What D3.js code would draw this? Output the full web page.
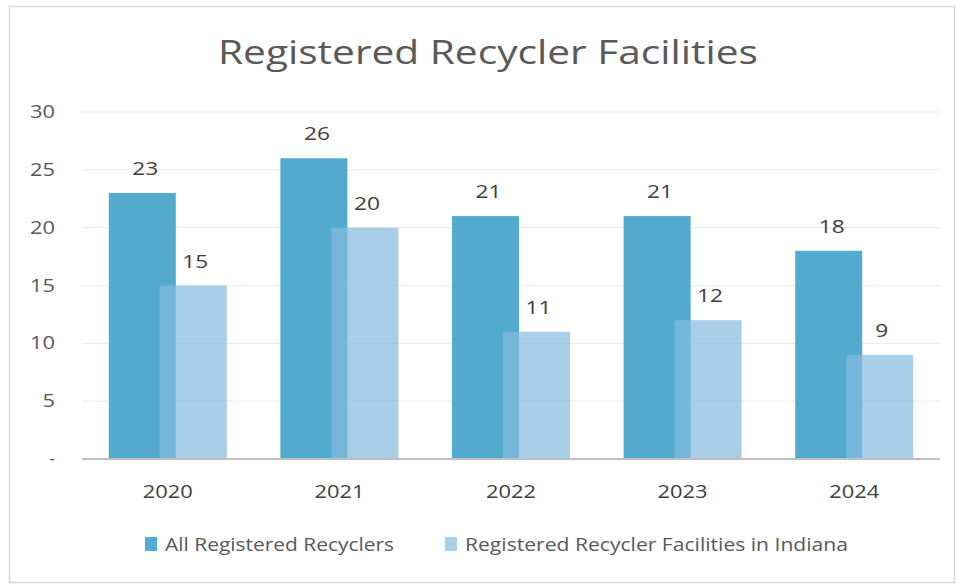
<!DOCTYPE html>
<html><head><meta charset="utf-8">
<script src="https://cdn.jsdelivr.net/npm/d3@7"></script>
<style>
html,body{margin:0;padding:0;background:#fff;}
svg{display:block;}
text{font-family:"Open Sans","Liberation Sans",sans-serif;}
</style></head>
<body>
<svg id="chart" width="957" height="587"></svg>
<script>
const categories = ["2020","2021","2022","2023","2024"];
const seriesNames = ["All Registered Recyclers","Registered Recycler Facilities in Indiana"];
const allRecyclers = [23,26,21,21,18];
const indianaFacilities = [15,20,11,12,9];
const yTicks = [0,5,10,15,20,25,30];
const title = "Registered Recycler Facilities";

const colors = ["#52abcf","rgba(132,186,222,0.7)"];
const svg = d3.select("#chart");

// frame
svg.append("rect").attr("x",9.5).attr("y",6.5).attr("width",945).attr("height",576)
  .attr("fill","#fff").attr("stroke","#d9d9d9").attr("stroke-width",1.5);

svg.append("text").attr("x",488).attr("y",64).attr("text-anchor","middle")
  .attr("font-size",33).attr("fill","#595959").attr("textLength",540).attr("lengthAdjust","spacingAndGlyphs").text(title);

const x = d3.scaleBand().domain(categories).range([82,940]);
const y = d3.scaleLinear().domain([0,30]).range([459,112]);

// grid
svg.append("g").selectAll("line").data(yTicks.filter(d=>d>0)).join("line")
  .attr("x1",82).attr("x2",940).attr("y1",d=>y(d)).attr("y2",d=>y(d))
  .attr("stroke","#ececec").attr("stroke-width",1.2);

// y axis labels
const yAxis = d3.axisLeft(y).tickValues(yTicks).tickSize(0).tickPadding(0)
  .tickFormat(d=>d===0?"-":d);
const gy = svg.append("g").attr("transform","translate(55,0)").call(yAxis);
gy.select(".domain").remove();
gy.selectAll("text").attr("font-size",17.5).attr("fill","#595959")
  .attr("font-family","'Open Sans','Liberation Sans',sans-serif")
  .each(function(d){ if(d!==0) d3.select(this).attr("textLength",String(d).length*12.5).attr("lengthAdjust","spacingAndGlyphs"); });

const bw = 67, off = 25.5;
const series = [allRecyclers, indianaFacilities];
series.forEach((vals,si)=>{
  const dx = si===0 ? -off : off;
  svg.append("g").selectAll("rect").data(vals).join("rect")
    .attr("x",(d,i)=>x(categories[i])+x.bandwidth()/2+dx-bw/2)
    .attr("width",bw)
    .attr("y",d=>y(d)).attr("height",d=>y(0)-y(d))
    .attr("fill",colors[si]);
});
series.forEach((vals,si)=>{
  const dx = si===0 ? -off+3 : off+2;
  svg.append("g").selectAll("text").data(vals).join("text")
    .attr("x",(d,i)=>x(categories[i])+x.bandwidth()/2+dx)
    .attr("y",d=>y(d)-18)
    .attr("text-anchor","middle").attr("font-size",18).attr("fill","#404040")
    .attr("textLength",d=>String(d).length*13).attr("lengthAdjust","spacingAndGlyphs")
    .text(d=>d);
});

// x axis line
svg.append("line").attr("x1",82).attr("x2",940).attr("y1",459).attr("y2",459)
  .attr("stroke","#bfbfbf").attr("stroke-width",2.2);

const xAxis = d3.axisBottom(x).tickSize(0).tickPadding(0);
const gx = svg.append("g").attr("transform","translate(0,498)").call(xAxis);
gx.select(".domain").remove();
gx.selectAll("text").attr("font-size",19).attr("fill","#404040").attr("dy",0)
  .attr("font-family","'Open Sans','Liberation Sans',sans-serif")
  .attr("textLength",50).attr("lengthAdjust","spacingAndGlyphs");

// legend
const legX = [145,445];
const legW = [229,383];
const legColors = ["#52abcf","#a9cfe8"];
seriesNames.forEach((n,i)=>{
  svg.append("rect").attr("x",legX[i]).attr("y",537).attr("width",12).attr("height",14).attr("fill",legColors[i]);
  svg.append("text").attr("x",legX[i]+20).attr("y",551).attr("font-size",19).attr("fill","#595959")
    .attr("textLength",legW[i]).attr("lengthAdjust","spacingAndGlyphs").text(n);
});
</script>
</body></html>
